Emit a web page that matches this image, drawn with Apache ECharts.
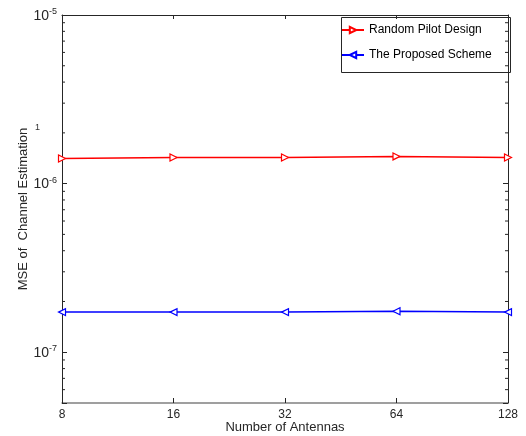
<!DOCTYPE html>
<html>
<head>
<meta charset="utf-8">
<script src="https://cdn.jsdelivr.net/npm/echarts@6/dist/echarts.min.js"></script>
<style>
html,body{margin:0;padding:0;background:#fff;}
#chart{width:526px;height:436px;}
</style>
</head>
<body>
<div id="chart"></div>
<script>
const antennas = ['8', '16', '32', '64', '128'];
const randomPilot = [1.41e-6, 1.43e-6, 1.43e-6, 1.45e-6, 1.43e-6];
const proposed = [1.73e-7, 1.73e-7, 1.73e-7, 1.75e-7, 1.73e-7];
const yMin = 5e-8, yMax = 1e-5;
const minorTicks = [6e-8, 7e-8, 8e-8, 9e-8,
  2e-7, 3e-7, 4e-7, 5e-7, 6e-7, 7e-7, 8e-7, 9e-7,
  2e-6, 3e-6, 4e-6, 5e-6, 6e-6, 7e-6, 8e-6, 9e-6];

const font = 'Liberation Sans, Arial, Helvetica, sans-serif';
const chart = echarts.init(document.getElementById('chart'), null, {renderer: 'canvas'});

function logLabel(v) {
  const l = Math.log10(v);
  const e = Math.round(l);
  if (Math.abs(l - e) > 1e-6) return '';
  return '{b|10}{e|' + e + '}';
}

const option = {
  backgroundColor: '#fff',
  animation: false,
  grid: {left: 62, right: 18, top: 15, bottom: 33, containLabel: false, outerBoundsMode: 'none'},
  xAxis: [{
    type: 'category', data: antennas, boundaryGap: false, position: 'bottom',
    axisLine: {show: true, onZero: false, lineStyle: {color: '#808080', width: 1.5}},
    axisTick: {inside: true, length: 5, lineStyle: {color: '#262626'}},
    axisLabel: {fontFamily: font, fontSize: 12, color: '#262626', margin: 6},
    name: 'Number of Antennas', nameLocation: 'middle', nameGap: 18, nameMoveOverlap: false,
    nameTextStyle: {fontFamily: font, fontSize: 13, color: '#262626'},
    splitLine: {show: false}
  }, {
    type: 'category', data: antennas, boundaryGap: false, position: 'top',
    axisLine: {show: true, onZero: false, lineStyle: {color: '#262626', width: 1}},
    axisTick: {inside: true, length: 4, lineStyle: {color: '#262626'}},
    axisLabel: {show: false}, splitLine: {show: false}
  }],
  yAxis: [{
    type: 'log', logBase: 10, min: yMin, max: yMax, position: 'left',
    axisLine: {show: true, onZero: false, lineStyle: {color: '#262626', width: 1}},
    axisTick: {show: true, inside: true, length: 5, lineStyle: {color: '#262626'}},
    axisLabel: {
      margin: 5, formatter: logLabel,
      rich: {
        b: {fontFamily: font, fontSize: 14, color: '#262626', lineHeight: 16, verticalAlign: 'bottom'},
        e: {fontFamily: font, fontSize: 9, color: '#262626', lineHeight: 16, verticalAlign: 'top'}
      }
    },
    name: 'MSE of  Channel Estimation', nameLocation: 'middle', nameGap: 32, nameMoveOverlap: false,
    nameTextStyle: {fontFamily: font, fontSize: 13, color: '#262626'},
    splitLine: {show: false}, minorTick: {show: false}
  }, {
    type: 'log', logBase: 10, min: yMin, max: yMax, position: 'right',
    axisLine: {show: true, onZero: false, lineStyle: {color: '#262626', width: 1}},
    axisTick: {show: true, inside: true, length: 5, lineStyle: {color: '#262626'}},
    axisLabel: {show: false}, splitLine: {show: false}
  }],
  legend: {
    left: 339, top: 15, orient: 'vertical',
    padding: [8, 5, 8, 2], itemGap: 11, itemWidth: 22, itemHeight: 8,
    textStyle: {fontFamily: font, fontSize: 12, color: '#000', lineHeight: 14},
    data: ['Random Pilot Design', 'The Proposed Scheme']
  },
  graphic: [{
    type: 'rect', left: 339, top: 15, z: 10, silent: true,
    shape: {width: 169, height: 55},
    style: {fill: 'none', stroke: '#262626', lineWidth: 1}
  }, {
    type: 'text', left: 35, top: 123,
    style: {text: '1', font: '9px ' + font, fill: '#333'}
  }],
  series: [{
    name: 'Random Pilot Design', type: 'line', data: randomPilot,
    symbol: 'triangle', symbolRotate: -90, symbolSize: 7, showAllSymbol: true,
    lineStyle: {color: '#ff0000', width: 1.5},
    itemStyle: {color: '#fff', borderColor: '#ff0000', borderWidth: 1.2},
    z: 3
  }, {
    name: 'The Proposed Scheme', type: 'line', data: proposed,
    symbol: 'triangle', symbolRotate: 90, symbolSize: 7, showAllSymbol: true,
    lineStyle: {color: '#0000ff', width: 1.5},
    itemStyle: {color: '#fff', borderColor: '#0000ff', borderWidth: 1.2},
    z: 3
  }, {
    type: 'custom', silent: true, z: 4,
    data: minorTicks.map(v => [0, v]),
    encode: {x: 0, y: 1},
    renderItem: function (params, api) {
      const cs = params.coordSys;
      const y = api.coord([0, api.value(1)])[1];
      const st = {stroke: '#262626', lineWidth: 1};
      return {type: 'group', children: [
        {type: 'line', shape: {x1: cs.x, y1: y, x2: cs.x + 3, y2: y}, style: st},
        {type: 'line', shape: {x1: cs.x + cs.width - 3, y1: y, x2: cs.x + cs.width, y2: y}, style: st}
      ]};
    }
  }]
};
chart.setOption(option);
</script>
</body>
</html>
